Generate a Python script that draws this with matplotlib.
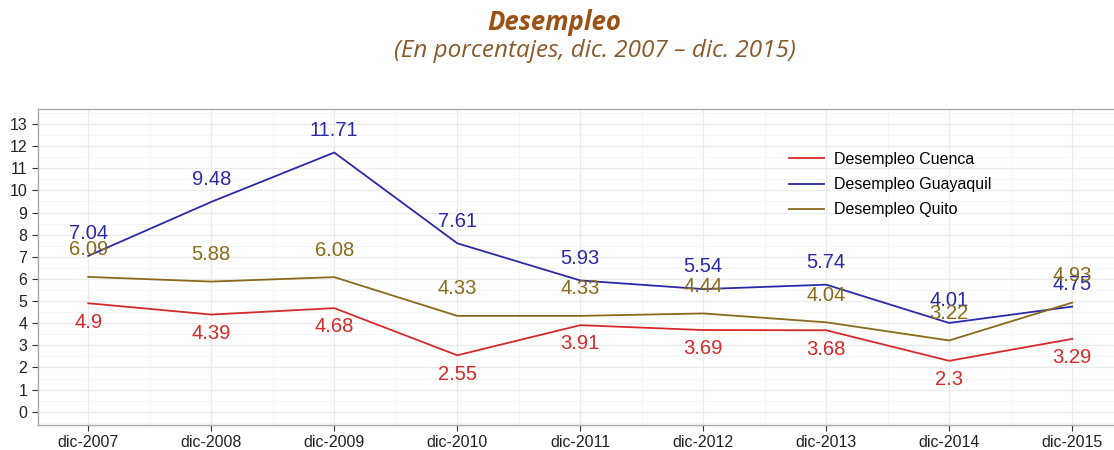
import matplotlib.pyplot as plt
import numpy as np

years = ["dic-2007", "dic-2008", "dic-2009", "dic-2010", "dic-2011",
         "dic-2012", "dic-2013", "dic-2014", "dic-2015"]
cuenca = [4.9, 4.39, 4.68, 2.55, 3.91, 3.69, 3.68, 2.3, 3.29]
guayaquil = [7.04, 9.48, 11.71, 7.61, 5.93, 5.54, 5.74, 4.01, 4.75]
quito = [6.09, 5.88, 6.08, 4.33, 4.33, 4.44, 4.04, 3.22, 4.93]

c_cue = "#d42a2a"
c_gye = "#2a2aa8"
c_uio = "#8a6a1a"

plt.rcParams['font.family'] = ['Liberation Sans', 'DejaVu Sans']

fig = plt.figure(figsize=(11.14, 4.5), dpi=100)
ax = fig.add_axes([0.034, 0.056, 0.966, 0.702])

x = np.arange(len(years))
ax.plot(x, cuenca, color=c_cue, lw=1.3, label="Desempleo Cuenca")
ax.plot(x, guayaquil, color=c_gye, lw=1.3, label="Desempleo Guayaquil")
ax.plot(x, quito, color=c_uio, lw=1.3, label="Desempleo Quito")

# value labels
for i in x:
    ax.text(i, cuenca[i] - 0.85, f"{cuenca[i]:g}", color=c_cue, fontsize=14.5,
            ha="center", va="center")
    ax.text(i, guayaquil[i] + 1.0, f"{guayaquil[i]:g}", color=c_gye, fontsize=14.5,
            ha="center", va="center")
    ax.text(i, quito[i] + 1.22, f"{quito[i]:g}", color=c_uio, fontsize=14.5,
            ha="center", va="center")

ax.set_xlim(-0.41, 8.34)
ax.set_ylim(-0.59, 13.68)
ax.set_xticks(x)
ax.set_xticklabels(years, fontsize=11.5, color="#222222")
ax.set_yticks(range(0, 14))
ax.tick_params(axis="y", labelsize=11.5, labelcolor="#222222", length=4, color="#333333")
ax.tick_params(axis="x", length=4, color="#333333")
ax.set_xticks(x[:-1] + 0.5, minor=True)
ax.set_yticks(np.arange(-0.5, 13.6, 1), minor=True)
ax.tick_params(which="minor", length=0)
ax.grid(which="major", color="#ebebeb", lw=0.9)
ax.grid(which="minor", color="#f5f5f5", lw=0.6)
ax.set_axisbelow(True)
for s in ax.spines.values():
    s.set_color("#aaaaaa")
    s.set_linewidth(1.0)
ax.spines["right"].set_visible(False)

leg = ax.legend(loc="upper left", bbox_to_anchor=(0.683, 0.915), fontsize=11.5,
                frameon=False, handlelength=2.2, borderpad=0.5,
                labelspacing=0.65, handletextpad=0.6)

fig.text(0.498, 0.951, "Desempleo", ha="center", va="center", fontsize=18.5,
         fontweight="bold", style="italic", color="#9a5214", family="Open Sans")
fig.text(0.534, 0.887, "(En porcentajes, dic. 2007 \u2013 dic. 2015)", ha="center",
         va="center", fontsize=17.5, style="italic", color="#8a5a2a",
         family="Open Sans")

fig.savefig("out.png", dpi=100)
